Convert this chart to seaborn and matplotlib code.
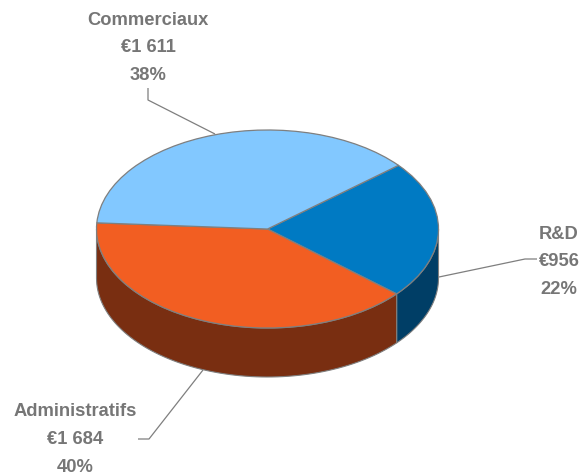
import numpy as np
import matplotlib
matplotlib.use("Agg")
import matplotlib.pyplot as plt
import seaborn as sns

# Cost breakdown by department
categories = ["R&D", "Administratifs", "Commerciaux"]
amounts = [956, 1684, 1611]
top_colors = ["#007AC3", "#F25E22", "#82C8FF"]
side_colors = ["#003E66", "#792E11", "#41648A"]

W, H = 582, 475
CX, CY, RX, RY = 267.5, 229.0, 171.0, 99.0
DEPTH = 49.0 / RY
START = 40.0
EDGE = "#7F7F7F"
TEXT = "#767676"

sns.set_theme(style="white")
plt.rcParams["font.family"] = ["Liberation Sans", "DejaVu Sans"]

fig = plt.figure(figsize=(W / 100, H / 100), dpi=100, facecolor="white")

# Pie axes: one data unit is one radius, so the unequal scales flatten the disc
ax = fig.add_axes([0, 0, 1, 1])
fractions = np.array(amounts) / sum(amounts)
bounds = START - 360 * np.concatenate([[0], np.cumsum(fractions)])

# Visible part of the cylinder wall lies between -180 and 0 degrees
for hi, lo, col in zip(bounds[:-1], bounds[1:], side_colors):
    a, b = max(lo, -180), min(hi, 0)
    if b <= a:
        continue
    t = np.radians(np.linspace(a, b, 80))
    xs = np.concatenate([np.cos(t), np.cos(t[::-1])])
    ys = np.concatenate([np.sin(t), np.sin(t[::-1]) - DEPTH])
    ax.fill(xs, ys, facecolor=col, edgecolor=EDGE, linewidth=0.8, zorder=1)

wedges, _ = ax.pie(
    amounts, colors=top_colors, startangle=START, counterclock=False, radius=1,
    wedgeprops=dict(edgecolor=EDGE, linewidth=0.9, zorder=2),
)
ax.set_aspect("auto")
ax.set_xlim((0 - CX) / RX, (W - CX) / RX)
ax.set_ylim((CY - H) / RY, CY / RY)
ax.axis("off")

# Overlay in figure pixels for the leader lines and labels
ov = fig.add_axes([0, 0, 1, 1], facecolor="none")
ov.set_xlim(0, W)
ov.set_ylim(H, 0)
ov.axis("off")

leaders = {
    "R&D": ([439, 525, 537], [277, 259, 259]),
    "Administratifs": ([203, 149, 138], [370, 439, 439]),
    "Commerciaux": ([215, 148, 148], [134, 100, 88]),
}
anchors = {
    "R&D": (559, 262),
    "Administratifs": (75, 439.5),
    "Commerciaux": (148, 48),
}
for name, amount, frac in zip(categories, amounts, fractions):
    lx, ly = leaders[name]
    ov.plot(lx, ly, color=EDGE, linewidth=0.9, solid_capstyle="butt", zorder=3)
    x, y = anchors[name]
    money = f"€{amount:,}".replace(",", " ")
    ov.text(x, y, f"{name}\n{money}\n{frac * 100:.0f}%", ha="center", va="center",
            color=TEXT, fontsize=13.2, fontweight="bold", linespacing=1.82, zorder=4)

fig.savefig("out.png", dpi=100)
